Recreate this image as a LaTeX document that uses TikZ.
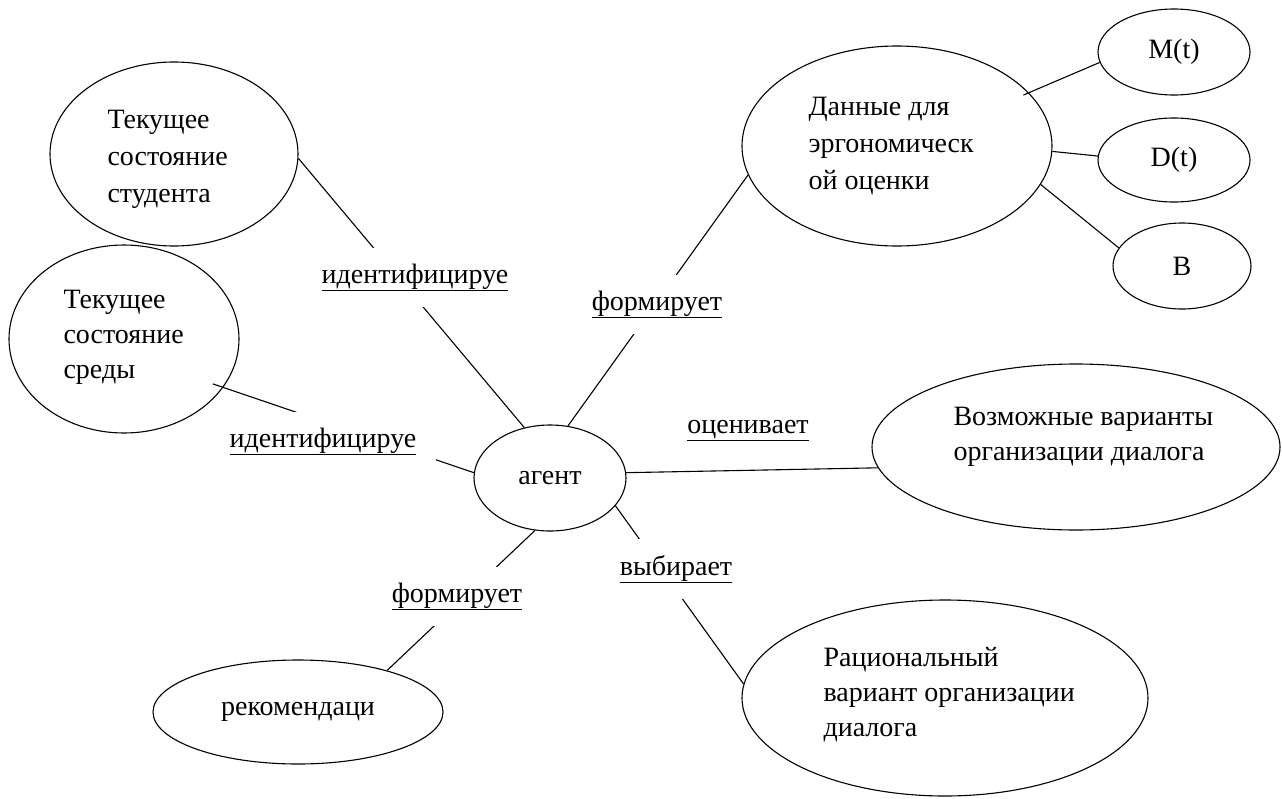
\documentclass[tikz,border=0pt]{standalone}
\usepackage{fontspec}
\setmainfont{Liberation Serif}
\usetikzlibrary{shapes.geometric}

\begin{document}
\begin{tikzpicture}[x=1pt,y=-1pt,line width=1.1pt,font=\fontsize{28}{37}\selectfont,
  oval/.style args={#1 by #2}{draw,ellipse,inner sep=0pt,minimum width=#1,minimum height=#2},
  txt/.style={anchor=north west,align=left,inner sep=0pt,font=\fontsize{28}{#1}\selectfont},
  txt/.default=37,
  lab/.style={fill=white,inner xsep=20pt,inner ysep=16pt,anchor=base}]
  \useasboundingbox (0,0) rectangle (1282,798);
  % ovals
  \node[oval=248 by 184] (stud) at (174,154) {};
  \node[oval=230 by 188] (env) at (124,339) {};
  \node[oval=310 by 200] (data) at (897,146) {};
  \node[oval=152 by 86] (mt) at (1174,52) {M(t)};
  \node[oval=152 by 84] (dt) at (1174,160) {D(t)};
  \node[oval=138 by 86] (bb) at (1182,266) {B};
  \node[oval=152 by 106] (agent) at (550,478) {агент};
  \node[oval=408 by 166] (poss) at (1076,447) {};
  \node[oval=406 by 196] (rat) at (945,698) {};
  \node[oval=290 by 104] (rec) at (298,712) {рекомендаци};
  % texts inside the ovals
  \node[txt] (studtxt) at (107,109.5) {Текущее\\состояние\\студента};
  \node[txt=35] (envtxt) at (63,289.5) {Текущее\\состояние\\среды};
  \node[txt] (datatxt) at (808,96.5) {Данные для\\эргономическ\\ой оценки};
  \node[txt=35] (posstxt) at (953,406.5) {Возможные варианты\\организации диалога};
  \node[txt=35] (rattxt) at (823,646.5) {Рациональный\\вариант организации\\диалога};
  % links
  \draw (stud.-2) -- (agent.117);
  \draw[shorten <=-11pt] (env.334) -- (agent.176);
  \draw (data.191) -- (agent.71);
  \draw (agent.4) -- (poss.186);
  \draw (agent.-23) -- (rat.176);
  \draw (agent.254) -- (rec.25);
  \draw[shorten <=-6pt] (data.22) -- (mt.188);
  \draw (data.-2) -- (dt.177);
  \draw (data.-15) -- (bb.164);
  % link labels
  \node[lab] (ident1) at (415,283) {\underline{идентифицируе}};
  \node[lab] (ident2) at (323,447) {\underline{идентифицируе}};
  \node[lab] (form1) at (657,310) {\underline{формирует}};
  \node[anchor=base] (eval) at (748,433) {\underline{оценивает}};
  \node[lab] (choose) at (676,575) {\underline{выбирает}};
  \node[lab] (form2) at (457,602) {\underline{формирует}};
\end{tikzpicture}
\end{document}
